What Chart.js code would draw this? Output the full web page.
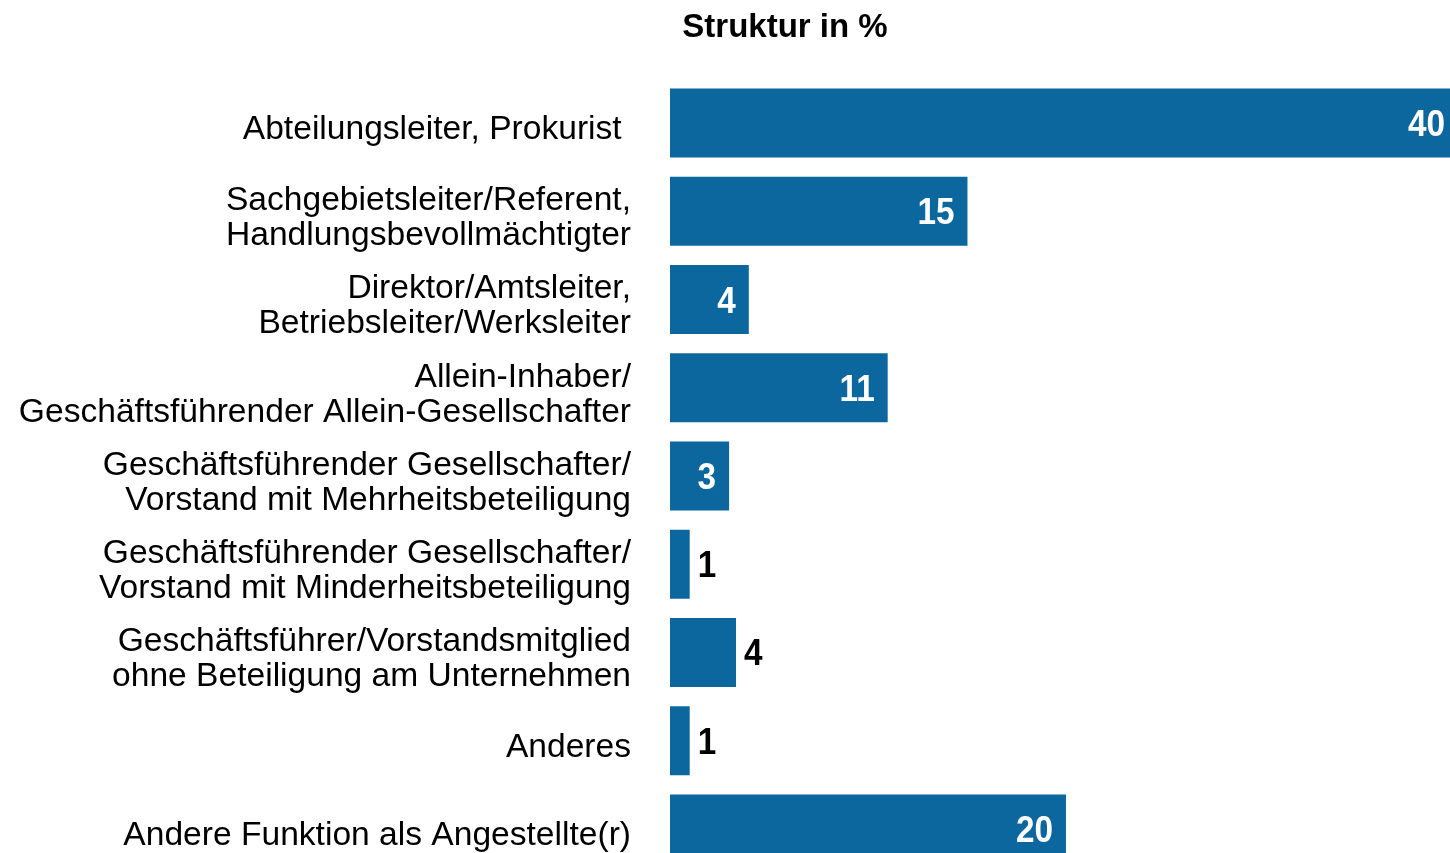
<!DOCTYPE html>
<html>
<head>
<meta charset="utf-8">
<script src="https://cdn.jsdelivr.net/npm/chart.js@4.4.1/dist/chart.umd.min.js"></script>
<style>
  html, body { margin: 0; padding: 0; background: #fff; overflow: hidden; }
  #wrap { width: 1460px; height: 880px; }
</style>
</head>
<body>
<div id="wrap"><canvas id="chart" width="1460" height="880"></canvas></div>
<script>
const categories = [
    'Abteilungsleiter, Prokurist ',
    ['Sachgebietsleiter/Referent,', 'Handlungsbevollmächtigter'],
    ['Direktor/Amtsleiter,', 'Betriebsleiter/Werksleiter'],
    ['Allein-Inhaber/', 'Geschäftsführender Allein-Gesellschafter'],
    ['Geschäftsführender Gesellschafter/', 'Vorstand mit Mehrheitsbeteiligung'],
    ['Geschäftsführender Gesellschafter/', 'Vorstand mit Minderheitsbeteiligung'],
    ['Geschäftsführer/Vorstandsmitglied', 'ohne Beteiligung am Unternehmen'],
    'Anderes',
    'Andere Funktion als Angestellte(r)'
]
const shares = [40, 15.1, 4.0, 11.05, 3.0, 1.0, 3.35, 1.0, 20.1]
const shareLabels = ['40', '15', '4', '11', '3', '1', '4', '1', '20']

const FONT = "'Liberation Sans', Arial, sans-serif"
const BLUE = '#0b679e'

// title sits left of the plot centre in the original
const titlePlugin = {
    id: 'titleText',
    afterDraw(chart){
        const ctx = chart.ctx
        ctx.save()
        ctx.font = 'bold 33px ' + FONT
        ctx.fillStyle = '#000'
        ctx.textAlign = 'center'
        ctx.textBaseline = 'alphabetic'
        ctx.fillText('Struktur in %', chart.chartArea.left + 115, 37)
        ctx.restore()
    }
}

// category labels, drawn from the y scale but sitting a bit below the bar centre
const categoryLabels = {
    id: 'categoryLabels',
    afterDraw(chart){
        const ctx = chart.ctx
        const y = chart.scales.y
        ctx.save()
        ctx.font = '33.6px ' + FONT
        ctx.fillStyle = '#000'
        ctx.textAlign = 'right'
        ctx.textBaseline = 'middle'
        const x = chart.chartArea.left - 39
        categories.forEach((lab, i) => {
            const lines = Array.isArray(lab) ? lab : [lab]
            const mid = y.getPixelForValue(i) + 7
            lines.forEach((line, k) => {
                ctx.fillText(line, x, mid + (k - (lines.length - 1) / 2) * 35)
            })
        })
        ctx.restore()
    }
}

// value labels: white inside the bar end, black after short bars
const valueLabels = {
    id: 'valueLabels',
    afterDatasetsDraw(chart, args, opts){
        const ctx = chart.ctx
        const meta = chart.getDatasetMeta(0)
        ctx.save()
        ctx.font = 'bold 37px ' + FONT
        ctx.textBaseline = 'alphabetic'
        meta.data.forEach((bar, i) => {
            const txt = shareLabels[i]
            const outside = opts.outside.includes(i)
            const w = ctx.measureText(txt).width * 0.9
            const x = outside ? bar.x + 8 : Math.min(bar.x, chart.width) - 13 - w
            ctx.fillStyle = outside ? '#000' : '#fff'
            ctx.save()
            ctx.translate(x, bar.y + 13)
            ctx.scale(0.9, 1)
            ctx.fillText(txt, 0, 0)
            ctx.restore()
        })
        ctx.restore()
    }
}

new Chart(document.getElementById('chart'), {
    type: 'bar',
    data: {
        labels: categories,
        datasets: [{
            data: shares,
            backgroundColor: BLUE,
            borderWidth: 0,
            categoryPercentage: 1,
            barPercentage: 0.782
        }]
    },
    options: {
        indexAxis: 'y',
        responsive: false,
        animation: false,
        layout: { padding: { top: 79, bottom: 7, left: 0, right: 2 } },
        scales: {
            x: { display: false, min: 0, max: 40 },
            y: {
                afterFit(scale){ scale.width = 670 },
                grid: { display: false, drawTicks: false },
                border: { display: false },
                ticks: { display: false }
            }
        },
        plugins: {
            legend: { display: false },
            tooltip: { enabled: false },
            valueLabels: { outside: [5, 6, 7] }
        }
    },
    plugins: [titlePlugin, categoryLabels, valueLabels]
})
</script>
</body>
</html>
